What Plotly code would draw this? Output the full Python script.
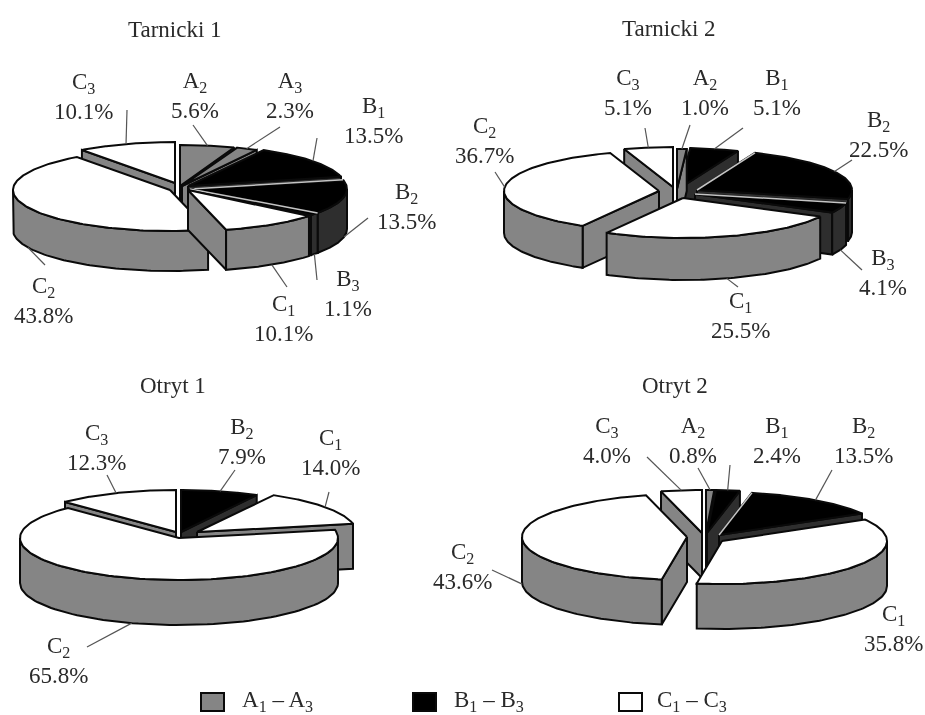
import numpy as np
import plotly.graph_objects as go

# Values, clockwise from 12 o'clock
tarnicki_1_names = ["A2", "A3", "B1", "B2", "B3", "C1", "C2", "C3"]
tarnicki_1_values = [5.6, 2.3, 13.5, 13.5, 1.1, 10.1, 43.8, 10.1]

tarnicki_2_names = ["A2", "B1", "B2", "B3", "C1", "C2", "C3"]
tarnicki_2_values = [1.0, 5.1, 22.5, 4.1, 25.5, 36.7, 5.1]

otryt_1_names = ["B2", "C1", "C2", "C3"]
otryt_1_values = [7.9, 14.0, 65.8, 12.3]

otryt_2_names = ["A2", "B1", "B2", "C1", "C2", "C3"]
otryt_2_values = [0.8, 2.4, 13.5, 35.8, 43.6, 4.0]

# Pie placement and styling, in page pixels
PIES = [
    dict(title="Tarnicki 1", title_xy=(175, 29), names=tarnicki_1_names, values=tarnicki_1_values,
         center=(180, 186), rx=157, ry=41, depth=40,
         shift=[(0, 0), (2, 0), (8, 0), (10, 3), (10, 3), (8, 4), (-10, 4), (-5, -3)],
         label_xy=[(195, 95), (290, 95), (373, 120), (406, 206), (348, 293), (283, 318), (43, 300), (83, 96)],
         leader_end=[(193, 125), (280, 127), (317, 138), (368, 218), (317, 280), (287, 287), (45, 265), (127, 110)]),
    dict(title="Tarnicki 2", title_xy=(669, 28), names=tarnicki_2_names, values=tarnicki_2_values,
         center=(677, 189), rx=155, ry=40, depth=42,
         shift=[(0, 0), (3, -1), (20, 1), (18, 5), (6, 9), (-18, 2), (-4, -2)],
         label_xy=[(705, 92), (777, 92), (878, 134), (883, 272), (740, 315), (484, 140), (628, 92)],
         leader_end=[(690, 125), (743, 128), (852, 160), (862, 270), (738, 287), (495, 172), (645, 128)]),
    dict(title="Otryt 1", title_xy=(173, 385), names=otryt_1_names, values=otryt_1_values,
         center=(179, 535), rx=159, ry=42, depth=45,
         shift=[(2, -3), (18, -3), (0, 3), (-3, -3)],
         label_xy=[(242, 441), (330, 452), (58, 660), (96, 447)],
         leader_end=[(235, 470), (329, 492), (87, 647), (107, 475)]),
    dict(title="Otryt 2", title_xy=(675, 385), names=otryt_2_names, values=otryt_2_values,
         center=(705, 533), rx=165, ry=43, depth=45,
         shift=[(1, 0), (2, 0), (14, 2), (17, 8), (-18, 4), (-3, 0)],
         label_xy=[(693, 440), (777, 440), (863, 440), (893, 628), (462, 566), (607, 440)],
         leader_end=[(698, 468), (730, 465), (832, 470), None, (492, 570), (647, 457)]),
]

TOP_COLORS = {"A": "#858585", "B": "#000000", "C": "#ffffff"}
SIDE_COLORS = {"A": "#858585", "B": "#2e2e2e", "C": "#858585"}
OUTLINE = "#0a0a0a"
TEXT_COLOR = "#2a2a2a"
TEXT_FONT = dict(family="Liberation Serif", size=23, color=TEXT_COLOR)

LEGEND_ITEMS = [
    ("A<sub>1</sub> – A<sub>3</sub>", "#858585", 201, 240),
    ("B<sub>1</sub> – B<sub>3</sub>", "#000000", 413, 452),
    ("C<sub>1</sub> – C<sub>3</sub>", "#ffffff", 619, 655),
]


def rim(pie, t, cx, cy):
    return cx + pie["rx"] * np.sin(t), cy - pie["ry"] * np.cos(t)


def add_poly(fig, xs, ys, fill, width=2, line=OUTLINE):
    fig.add_trace(go.Scatter(x=list(xs), y=list(ys), mode="lines", fill="toself", fillcolor=fill,
                             line=dict(color=line, width=width), hoverinfo="skip", showlegend=False))


def draw_pie(fig, pie, annotations):
    values = np.array(pie["values"])
    edges = np.concatenate([[0], np.cumsum(values)]) / values.sum() * 2 * np.pi
    depth = pie["depth"]

    slices = []
    for i, name in enumerate(pie["names"]):
        t0, t1 = edges[i], edges[i + 1]
        mid = (t0 + t1) / 2
        cx = pie["center"][0] + pie["shift"][i][0]
        cy = pie["center"][1] + pie["shift"][i][1]
        slices.append(dict(i=i, name=name, t0=t0, t1=t1, mid=mid, cx=cx, cy=cy,
                           key=rim(pie, mid, cx, cy)[1]))

    # Painter's order, back of the pie first
    for s in sorted(slices, key=lambda v: v["key"]):
        group = s["name"][0]
        cx, cy = s["cx"], s["cy"]

        # Cut faces, only the ones turned towards the viewer
        visible = []
        if np.sin(s["t0"]) < -1e-9:
            visible.append(s["t0"])
        if np.sin(s["t1"]) > 1e-9:
            visible.append(s["t1"])
        for t in visible:
            x, y = rim(pie, t, cx, cy)
            add_poly(fig, [cx, x, x, cx, cx], [cy, y, y + depth, cy + depth, cy], SIDE_COLORS[group])

        # Outer wall, front half only
        low, high = max(s["t0"], np.pi / 2), min(s["t1"], 3 * np.pi / 2)
        if high > low:
            ts = np.linspace(low, high, 80)
            x, y = rim(pie, ts, cx, cy)
            add_poly(fig, np.concatenate([x, x[::-1], x[:1]]),
                     np.concatenate([y, y[::-1] + depth, y[:1]]), SIDE_COLORS[group])

        # Top
        ts = np.linspace(s["t0"], s["t1"], 120)
        x, y = rim(pie, ts, cx, cy)
        add_poly(fig, np.concatenate([[cx], x, [cx]]), np.concatenate([[cy], y, [cy]]), TOP_COLORS[group])

        # Light seam between neighbouring black slices
        if group == "B" and s["i"] > 0 and pie["names"][s["i"] - 1][0] == "B":
            x, y = rim(pie, s["t0"], cx, cy)
            fig.add_trace(go.Scatter(x=[cx, x], y=[cy, y], mode="lines", line=dict(color="#c4c4c4", width=1.5),
                                     hoverinfo="skip", showlegend=False))

    # Labels and leaders
    for s in slices:
        i = s["i"]
        end = pie["leader_end"][i]
        if end is not None:
            x, y = rim(pie, s["mid"], s["cx"], s["cy"])
            if np.cos(s["mid"]) < 0:
                y = y + depth
            fig.add_trace(go.Scatter(x=[x, end[0]], y=[y, end[1]], mode="lines",
                                     line=dict(color="#555555", width=1.2), hoverinfo="skip", showlegend=False))
        text = f"{s['name'][0]}<sub>{s['name'][1]}</sub><br>{pie['values'][i]:.1f}%"
        annotations.append(dict(x=pie["label_xy"][i][0], y=pie["label_xy"][i][1], text=text, showarrow=False,
                                xanchor="center", yanchor="middle", align="center", font=TEXT_FONT))

    annotations.append(dict(x=pie["title_xy"][0], y=pie["title_xy"][1], text=pie["title"], showarrow=False,
                            xanchor="center", yanchor="middle", font=TEXT_FONT))


fig = go.Figure()
annotations = []
for pie in PIES:
    draw_pie(fig, pie, annotations)

shapes = []
for text, color, box_x, text_x in LEGEND_ITEMS:
    shapes.append(dict(type="rect", x0=box_x, x1=box_x + 23, y0=693, y1=711, fillcolor=color,
                       line=dict(color=OUTLINE, width=2)))
    annotations.append(dict(x=text_x, y=701, text=text, showarrow=False, xanchor="left", yanchor="middle",
                            font=TEXT_FONT))

fig.update_layout(
    width=925,
    height=715,
    margin=dict(l=0, r=0, t=0, b=0),
    paper_bgcolor="white",
    plot_bgcolor="white",
    showlegend=False,
    font=TEXT_FONT,
    xaxis=dict(range=[0, 925], visible=False, fixedrange=True),
    yaxis=dict(range=[715, 0], visible=False, fixedrange=True),
    annotations=annotations,
    shapes=shapes,
)

# The source is a soft scan, so take the edge off everything a little
fig.write_html("out.html", config=dict(displayModeBar=False),
               post_script="document.body.style.margin='0';"
                           "document.querySelectorAll('.main-svg').forEach(s => s.style.filter='blur(0.6px)');")
